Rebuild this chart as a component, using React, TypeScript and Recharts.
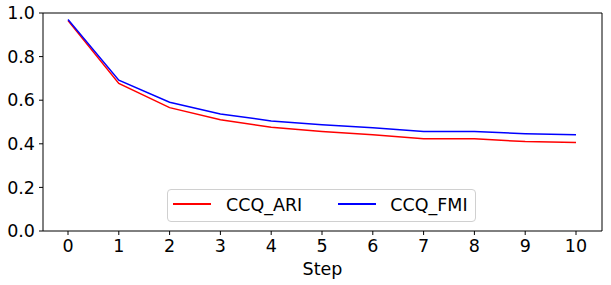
import React from 'react'
import { LineChart, Line, XAxis, YAxis } from 'recharts'

const steps = [0, 1, 2, 3, 4, 5, 6, 7, 8, 9, 10]
const ccqAri = [0.965, 0.677, 0.566, 0.51, 0.476, 0.456, 0.441, 0.423, 0.423, 0.41, 0.406]
const ccqFmi = [0.97, 0.692, 0.591, 0.537, 0.505, 0.487, 0.474, 0.456, 0.456, 0.446, 0.441]
const yTicks = [0, 0.2, 0.4, 0.6, 0.8, 1.0]
const seriesNames = ['CCQ_ARI', 'CCQ_FMI']
const seriesColors = ['#ff0000', '#0000ff']

const font = 'DejaVu Sans, sans-serif'

const data = steps.map((s, i) => ({
  step: s,
  ari: ccqAri[i],
  fmi: ccqFmi[i]
}))

const tickStyle = { fontSize: 17.5, fill: '#000', fontFamily: font }

const LegendBox = () => (
  <div
    style={{
      position: 'absolute',
      left: 167,
      top: 189,
      width: 307,
      height: 31,
      border: '1px solid #d0d0d0',
      borderRadius: 4,
      background: 'rgba(255,255,255,0.8)',
      display: 'flex',
      alignItems: 'center',
      fontFamily: font,
      fontSize: 17.5,
      color: '#000'
    }}
  >
    {seriesNames.map((name, i) => (
      <div key={name} style={{ display: 'flex', alignItems: 'center', marginLeft: i === 0 ? 5 : 36 }}>
        <div style={{ width: 38, height: 2, background: seriesColors[i], position: 'relative', top: -2 }} />
        <span style={{ marginLeft: i === 0 ? 15 : 14, lineHeight: 1 }}>{name}</span>
      </div>
    ))}
  </div>
)

export default function App() {
  return (
    <div style={{ position: 'absolute', left: 0, top: 0, width: 611, height: 285, background: '#fff' }}>
      <LineChart width={611} height={285} data={data} margin={{ top: 12, right: 8, left: 0, bottom: 0 }}>
        <XAxis
          dataKey="step"
          type="number"
          domain={[0, 10]}
          ticks={steps}
          padding={{ left: 25, right: 26 }}
          height={54}
          tick={tickStyle}
          tickSize={4}
          tickMargin={5}
          stroke="#000"
          axisLine={{ stroke: '#000' }}
          tickLine={{ stroke: '#000' }}
          label={{ value: 'Step', position: 'insideBottom', offset: 10, fontSize: 17.5, fill: '#000', fontFamily: font }}
        />
        <XAxis
          xAxisId="top"
          orientation="top"
          type="number"
          domain={[0, 10]}
          ticks={steps}
          height={1}
          tick={false}
          tickLine={false}
          axisLine={{ stroke: '#000' }}
        />
        <YAxis
          domain={[0, 1]}
          ticks={yTicks}
          width={43}
          tick={tickStyle}
          tickSize={4}
          tickMargin={4}
          tickFormatter={(v: number) => v.toFixed(1)}
          axisLine={{ stroke: '#000' }}
          tickLine={{ stroke: '#000' }}
        />
        <YAxis
          yAxisId="right"
          orientation="right"
          domain={[0, 1]}
          ticks={yTicks}
          width={1}
          tick={false}
          tickLine={false}
          axisLine={{ stroke: '#000' }}
        />
        <Line dataKey="ari" stroke={seriesColors[0]} strokeWidth={1.5} dot={false} isAnimationActive={false} />
        <Line dataKey="fmi" stroke={seriesColors[1]} strokeWidth={1.5} dot={false} isAnimationActive={false} />
      </LineChart>
      <LegendBox />
    </div>
  )
}
